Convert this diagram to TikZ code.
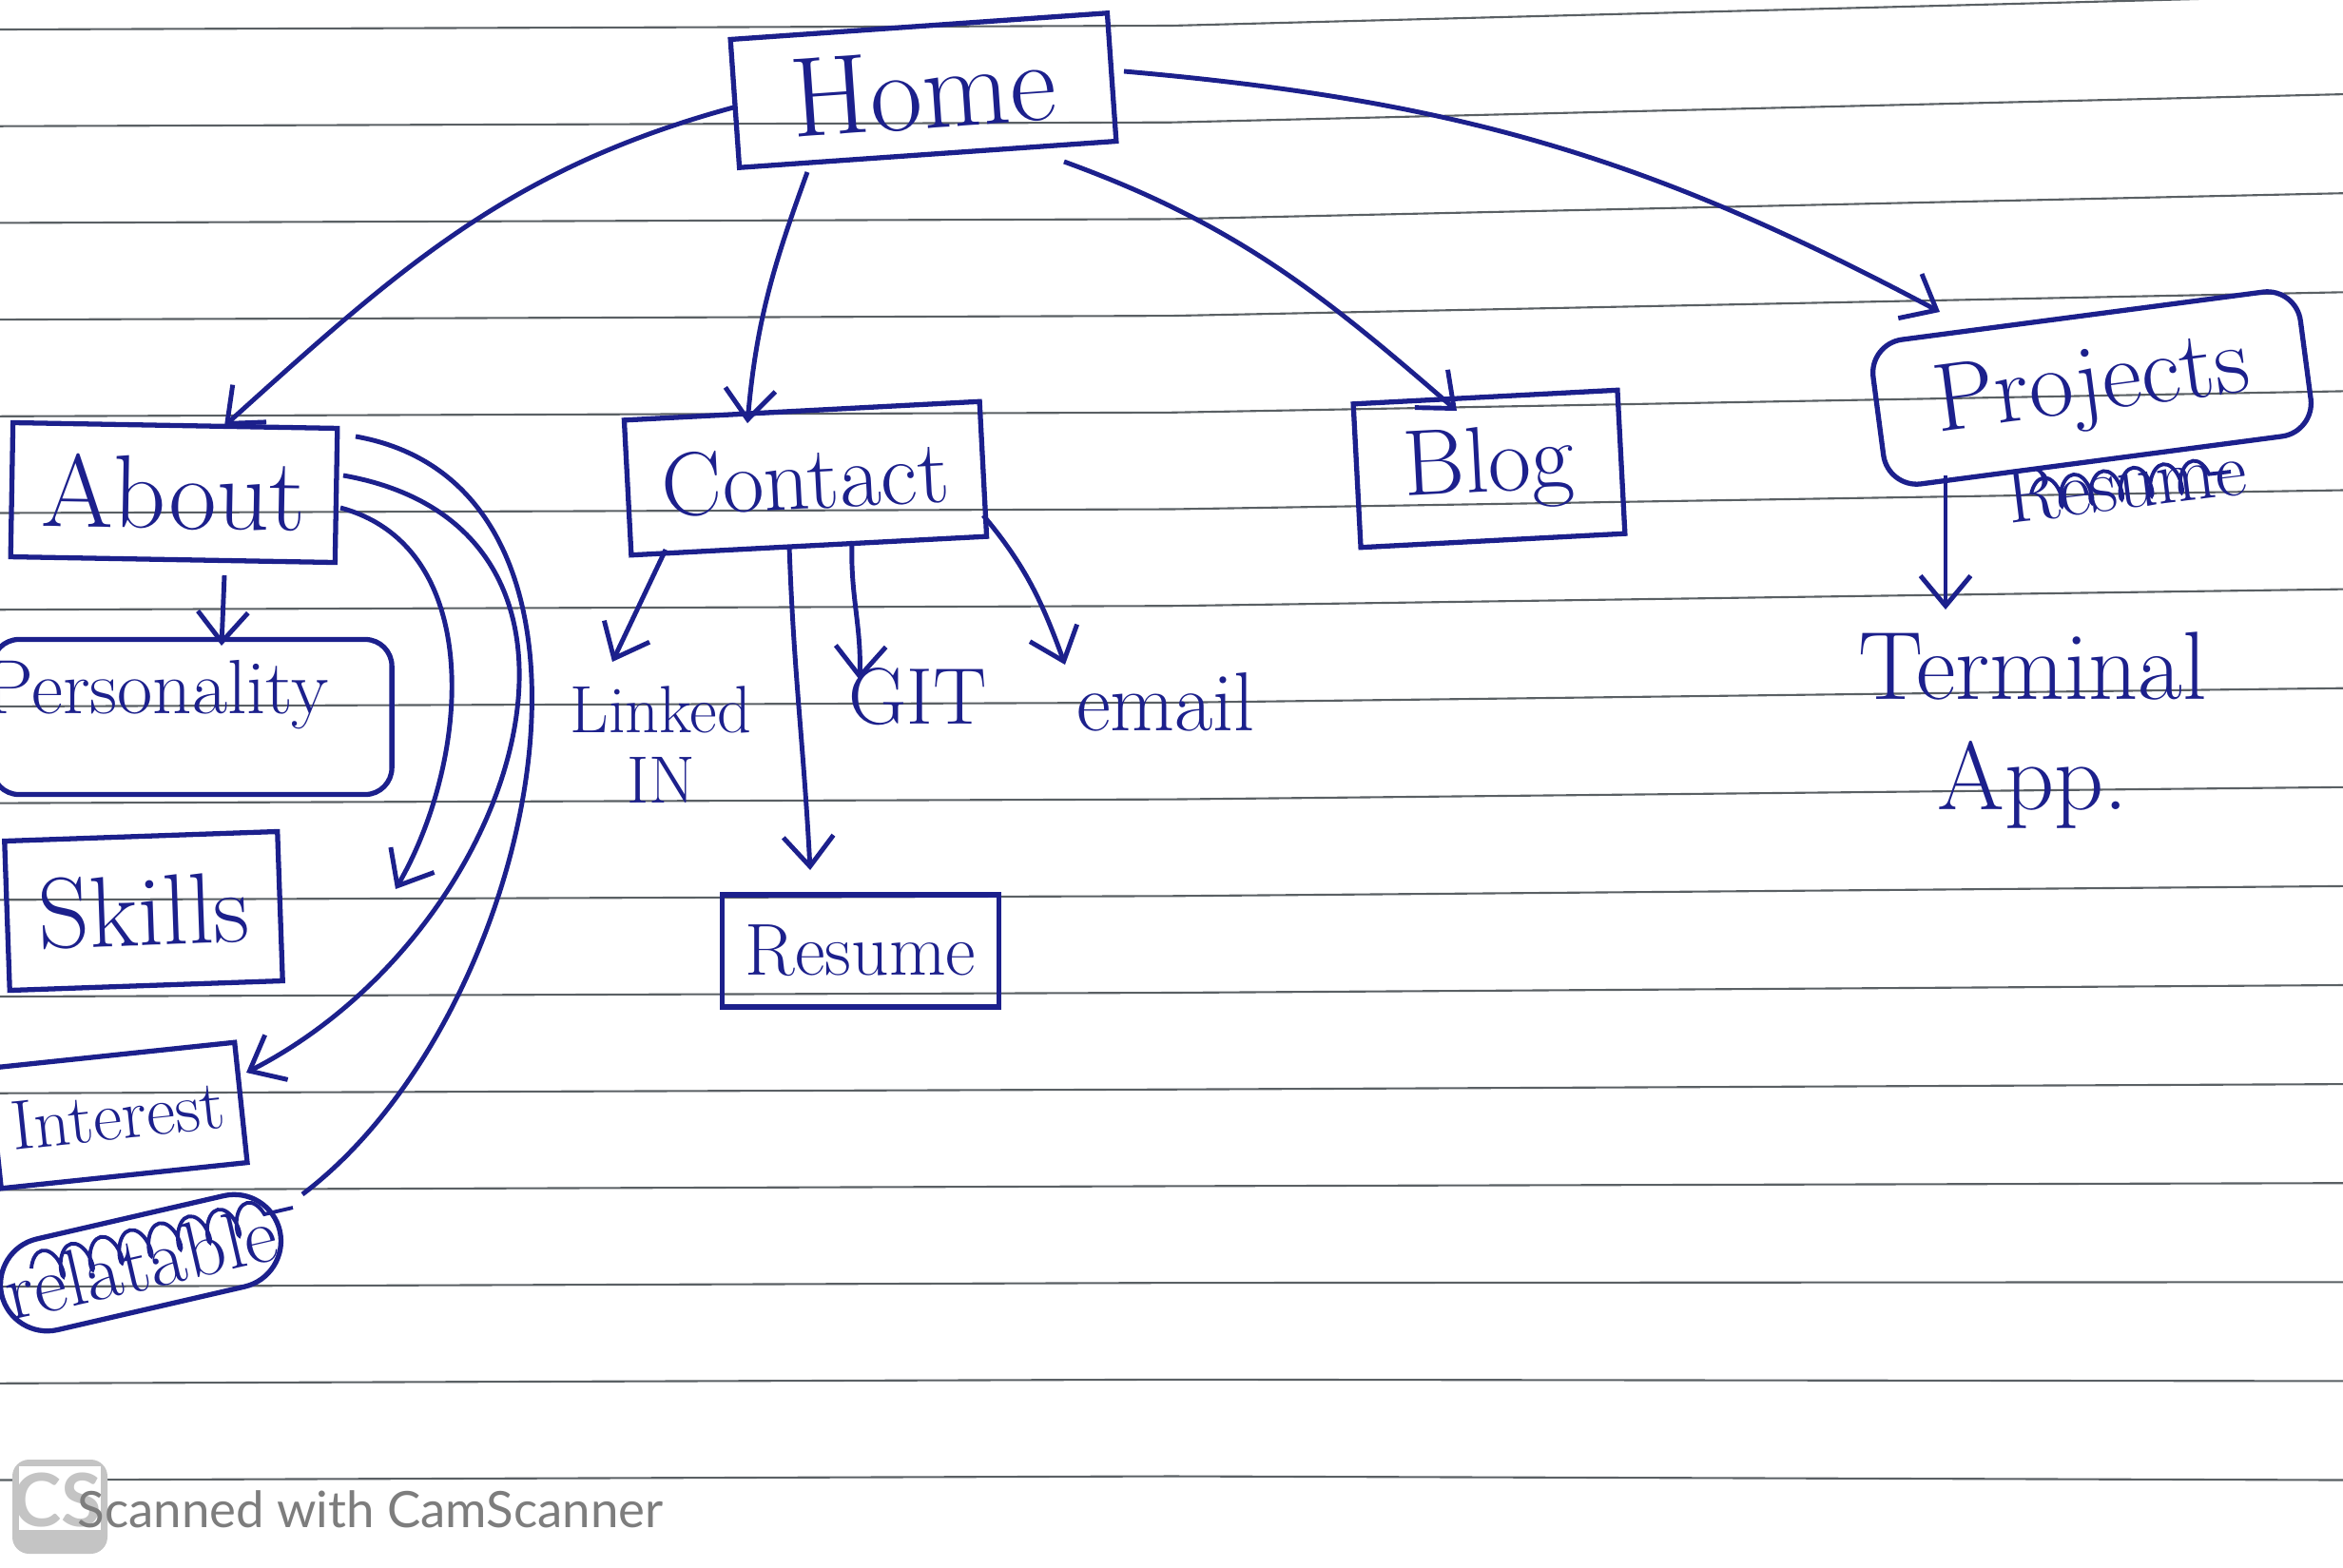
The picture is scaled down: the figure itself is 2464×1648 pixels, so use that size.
\documentclass[tikz,border=0pt]{standalone}
\usepackage{fontspec}
\newfontfamily\camfont{Lato}
\usetikzlibrary{arrows.meta,decorations.pathmorphing}
\definecolor{ink}{RGB}{28,32,140}
\definecolor{rulec}{RGB}{90,96,100}
\definecolor{camgray}{RGB}{125,125,125}
\definecolor{logogray}{RGB}{196,196,196}
\tikzset{
  box/.style={draw=ink, line width=1.5pt, text=ink, inner sep=0pt, align=center},
  lbl/.style={text=ink, inner sep=0pt, align=center},
  arr/.style={draw=ink, line width=1.4pt, -{Straight Barb[length=9pt,width=15pt]}},
  con/.style={draw=ink, line width=1.4pt},
  scrib/.style={draw=ink, line width=1.1pt, decorate,
    decoration={coil, aspect=0.45, segment length=9pt, amplitude=4.5pt}},
  fs/.style={font=\fontsize{#1}{#1}\selectfont}
}
\begin{document}
\begin{tikzpicture}[x=0.01cm, y=-0.01cm]
\useasboundingbox (0,0) rectangle (2464,1648);
\fill[white] (0,0) rectangle (2464,1648);
% ruled notebook lines
\foreach \i in {0,...,15}{
  \pgfmathsetmacro\L{31+101.7*\i}
  \pgfmathsetmacro\R{\L-36*(1-\i/15)}
  \draw[rulec, line width=0.6pt] (0,\L) -- (1232,\L-4) -- (2464,\R);
}
% nodes
\node[box, fs=34, minimum width=3.97cm, minimum height=1.35cm, rotate=4] (home) at (971,95) {Home};
\node[box, fs=31, minimum width=3.41cm, minimum height=1.41cm, rotate=-1] (about) at (183,518) {About};
\node[box, rounded corners=8pt, minimum width=4.2cm, minimum height=1.63cm] (pers) at (202,754) {};
\node[lbl, fs=23] (perst) at (165,731) {Personality};
\node[box, fs=30, minimum width=2.87cm, minimum height=1.57cm, rotate=2] (skills) at (151,958) {Skills};
\node[box, fs=21, minimum width=2.6cm, minimum height=1.27cm, rotate=6] (interest) at (124,1173) {Interest};
\node[box, fs=24, rounded corners=14pt, minimum width=3.0cm, minimum height=0.98cm, rotate=13] (relat) at (148,1328) {relatable};
\node[box, fs=27, minimum width=3.74cm, minimum height=1.42cm, rotate=3] (contact) at (847,503) {Contact};
\node[box, fs=28, minimum width=2.78cm, minimum height=1.51cm, rotate=3] (blog) at (1566,493) {Blog};
\node[box, fs=29, rounded corners=10pt, minimum width=4.53cm, minimum height=1.53cm, rotate=7.5] (projects) at (2200,408) {Projects};
\node[lbl, fs=23, rotate=7] (pres) at (2236,508) {Resume};
\node[lbl, font=\fontsize{29}{33}\selectfont] (terminal) at (2138,768) {Terminal\\App.};
\node[lbl, font=\fontsize{20}{21}\selectfont] (linkedin) at (695,783) {Linked\\IN};
\node[lbl, fs=24] (git) at (965,733) {GIT};
\node[lbl, fs=25] (email) at (1226,738) {email};
\node[box, fs=22, minimum width=2.91cm, minimum height=1.18cm] (resume) at (905,1000) {Resume};
% crossed-out scribbles
\draw[scrib] ([shift={(-115,6)}]relat.center) -- ([shift={(160,-58)}]relat.center);
\draw[scrib] ([shift={(-100,12)}]pres.center) -- ([shift={(110,-12)}]pres.center);
% connectors from Home
\draw[arr] ([shift={(-196,17)}]home.center) to[out=195,in=42] ([shift={(53,-70)}]about.center);
\draw[arr] ([shift={(-122,86)}]home.center) to[out=-110,in=85] ([shift={(-61,-58)}]contact.center);
\draw[arr] ([shift={(148,75)}]home.center) to[out=-20,in=139] ([shift={(-34,-61)}]blog.center);
\draw[arr] ([shift={(211,-20)}]home.center) to[out=-5,in=152] ([shift={(-160,-80)}]projects.center);
% connectors from About
\draw[arr] ([shift={(53,87)}]about.center) -- ([shift={(31,-75)}]pers.center);
\draw[arr] ([shift={(175,16)}]about.center) to[out=-15,in=60] ([shift={(265,-23)}]skills.center);
\draw[arr] ([shift={(178,-18)}]about.center) to[out=-10,in=27,looseness=1.3] ([shift={(135,-45)}]interest.center);
\draw[con] ([shift={(191,-59)}]about.center) to[out=-10,in=37] ([shift={(170,-72)}]relat.center);
% connectors from Contact
\draw[arr] ([shift={(-147,75)}]contact.center) -- ([shift={(-51,-87)}]linkedin.center);
\draw[arr] ([shift={(-17,71)}]contact.center) to[out=-88,in=93] ([shift={(-53,-85)}]resume.center);
\draw[arr] ([shift={(49,66)}]contact.center) to[out=-92,in=88] ([shift={(-61,-18)}]git.center);
\draw[arr] ([shift={(187,39)}]contact.center) to[out=-50,in=110] ([shift={(-106,-39)}]email.center);
% connector from Projects
\draw[arr] ([shift={(-154,92)}]projects.center) -- ([shift={(-92,-127)}]terminal.center);
% scanner footer
\fill[logogray, rounded corners=5pt] (13,1535) rectangle (113,1634);
\fill[white] (20,1542) rectangle (106,1609);
\node[text=logogray, inner sep=0pt, font=\camfont\bfseries\fontsize{22}{22}\selectfont] (cslogo) at (60,1578) {CS};
\node[anchor=west, text=camgray, inner sep=0pt, font=\camfont\fontsize{15}{18}\selectfont] (cam) at (81,1587) {Scanned with CamScanner};
\end{tikzpicture}
\end{document}
